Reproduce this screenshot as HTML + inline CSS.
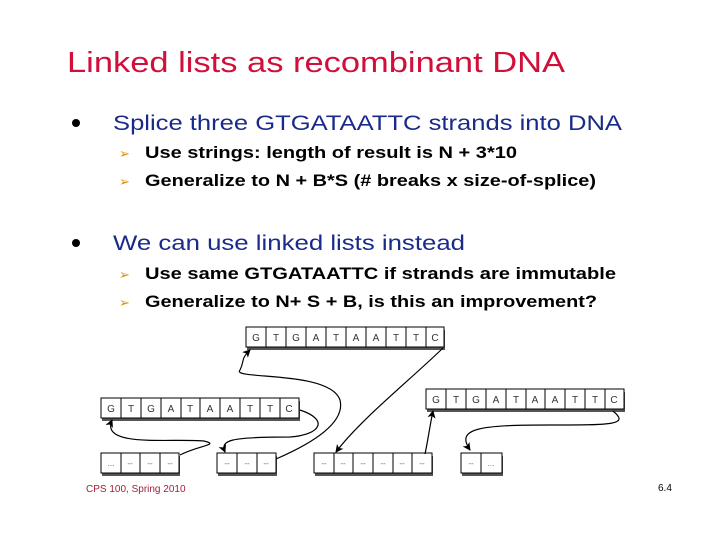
<!DOCTYPE html>
<html><head><meta charset="utf-8"><style>html,body{margin:0;padding:0;background:#fff}svg{display:block}</style></head>
<body>
<svg width="720" height="540" viewBox="0 0 720 540" xmlns="http://www.w3.org/2000/svg" font-family="Liberation Sans, Arial, sans-serif">
<rect width="720" height="540" fill="#fff"/>
<text x="67" y="72" font-size="29" fill="#d0103a" textLength="498" lengthAdjust="spacingAndGlyphs">Linked lists as recombinant DNA</text>
<circle cx="76" cy="123" r="4" fill="#000"/>
<text x="113" y="130" font-size="21" fill="#1a2a8a" textLength="509" lengthAdjust="spacingAndGlyphs">Splice three GTGATAATTC strands into DNA</text>
<text x="119" y="158" font-size="13" fill="#e09000">➢</text>
<text x="145" y="158" font-size="17" font-weight="bold" fill="#000" textLength="372" lengthAdjust="spacingAndGlyphs">Use strings: length of result is N + 3*10</text>
<text x="119" y="186" font-size="13" fill="#e09000">➢</text>
<text x="145" y="186" font-size="17" font-weight="bold" fill="#000" textLength="451" lengthAdjust="spacingAndGlyphs">Generalize to N + B*S (# breaks x size-of-splice)</text>
<circle cx="76" cy="243" r="4" fill="#000"/>
<text x="113" y="250" font-size="21" fill="#1a2a8a" textLength="352" lengthAdjust="spacingAndGlyphs">We can use linked lists instead</text>
<text x="119" y="279" font-size="13" fill="#e09000">➢</text>
<text x="145" y="279" font-size="17" font-weight="bold" fill="#000" textLength="471" lengthAdjust="spacingAndGlyphs">Use same GTGATAATTC if strands are immutable</text>
<text x="119" y="307" font-size="13" fill="#e09000">➢</text>
<text x="145" y="307" font-size="17" font-weight="bold" fill="#000" textLength="452" lengthAdjust="spacingAndGlyphs">Generalize to N+ S + B, is this an improvement?</text>

<text x="86" y="492" font-size="10" fill="#a0203a">CPS 100, Spring 2010</text>
<text x="658" y="491" font-size="10" fill="#000">6.4</text>

<g id="diagram" font-size="10" fill="#333" text-anchor="middle">
<!-- top strand -->
<g>
<rect x="247" y="330" width="198" height="20" fill="#555"/>
<rect x="246" y="327" width="198" height="20" fill="#fff" stroke="#000"/>
<g stroke="#000"><line x1="266" y1="327" x2="266" y2="347"/><line x1="286" y1="327" x2="286" y2="347"/><line x1="306" y1="327" x2="306" y2="347"/><line x1="326" y1="327" x2="326" y2="347"/><line x1="346" y1="327" x2="346" y2="347"/><line x1="366" y1="327" x2="366" y2="347"/><line x1="386" y1="327" x2="386" y2="347"/><line x1="406" y1="327" x2="406" y2="347"/><line x1="426" y1="327" x2="426" y2="347"/></g>
<text x="256" y="341">G</text><text x="276" y="341">T</text><text x="296" y="341">G</text><text x="316" y="341">A</text><text x="336" y="341">T</text><text x="356" y="341">A</text><text x="376" y="341">A</text><text x="396" y="341">T</text><text x="416" y="341">T</text><text x="435" y="341">C</text>
</g>
<!-- left strand -->
<g>
<rect x="102" y="401" width="198" height="20" fill="#555"/>
<rect x="101" y="398" width="198" height="20" fill="#fff" stroke="#000"/>
<g stroke="#000"><line x1="121" y1="398" x2="121" y2="418"/><line x1="141" y1="398" x2="141" y2="418"/><line x1="161" y1="398" x2="161" y2="418"/><line x1="181" y1="398" x2="181" y2="418"/><line x1="200" y1="398" x2="200" y2="418"/><line x1="220" y1="398" x2="220" y2="418"/><line x1="240" y1="398" x2="240" y2="418"/><line x1="260" y1="398" x2="260" y2="418"/><line x1="280" y1="398" x2="280" y2="418"/></g>
<text x="111" y="412">G</text><text x="131" y="412">T</text><text x="151" y="412">G</text><text x="171" y="412">A</text><text x="190" y="412">T</text><text x="210" y="412">A</text><text x="230" y="412">A</text><text x="250" y="412">T</text><text x="270" y="412">T</text><text x="289" y="412">C</text>
</g>
<!-- right strand -->
<g>
<rect x="427" y="392" width="198" height="20" fill="#555"/>
<rect x="426" y="389" width="198" height="20" fill="#fff" stroke="#000"/>
<g stroke="#000"><line x1="446" y1="389" x2="446" y2="409"/><line x1="466" y1="389" x2="466" y2="409"/><line x1="486" y1="389" x2="486" y2="409"/><line x1="506" y1="389" x2="506" y2="409"/><line x1="526" y1="389" x2="526" y2="409"/><line x1="545" y1="389" x2="545" y2="409"/><line x1="565" y1="389" x2="565" y2="409"/><line x1="585" y1="389" x2="585" y2="409"/><line x1="605" y1="389" x2="605" y2="409"/></g>
<text x="436" y="403">G</text><text x="456" y="403">T</text><text x="476" y="403">G</text><text x="496" y="403">A</text><text x="516" y="403">T</text><text x="535" y="403">A</text><text x="555" y="403">A</text><text x="575" y="403">T</text><text x="595" y="403">T</text><text x="614" y="403">C</text>
</g>
<!-- bottom lists -->
<g fill="#555"><rect x="102" y="456" width="78" height="20"/><rect x="218" y="456" width="59" height="20"/><rect x="315" y="456" width="118" height="20"/><rect x="462" y="456" width="41" height="20"/></g>
<g fill="#fff" stroke="#000">
<rect x="101" y="453" width="78" height="20"/><rect x="217" y="453" width="59" height="20"/><rect x="314" y="453" width="118" height="20"/><rect x="461" y="453" width="41" height="20"/>
<line x1="121" y1="453" x2="121" y2="473"/><line x1="140" y1="453" x2="140" y2="473"/><line x1="160" y1="453" x2="160" y2="473"/>
<line x1="237" y1="453" x2="237" y2="473"/><line x1="257" y1="453" x2="257" y2="473"/>
<line x1="334" y1="453" x2="334" y2="473"/><line x1="353" y1="453" x2="353" y2="473"/><line x1="373" y1="453" x2="373" y2="473"/><line x1="393" y1="453" x2="393" y2="473"/><line x1="412" y1="453" x2="412" y2="473"/>
<line x1="481" y1="453" x2="481" y2="473"/>
</g>
<g font-size="8" fill="#666">
<text x="111" y="466" fill="#a03040">...</text><text x="130" y="466">--</text><text x="150" y="466">--</text><text x="170" y="466">--</text>
<text x="227" y="466">--</text><text x="247" y="466">--</text><text x="266" y="466">--</text>
<text x="324" y="466">--</text><text x="343" y="466">--</text><text x="363" y="466">--</text><text x="383" y="466">--</text><text x="402" y="466">--</text><text x="422" y="466">--</text>
<text x="471" y="466">--</text><text x="491" y="466">...</text>
</g>
</g>
<defs><marker id="ah" markerWidth="8" markerHeight="8" refX="7" refY="4" orient="auto" markerUnits="userSpaceOnUse"><path d="M0,0 L8,4 L0,8 L2,4 z" fill="#000"/></marker></defs>
<g fill="none" stroke="#000" stroke-width="1.2" marker-end="url(#ah)">
<path d="M180,455 C200,445 220,445 204,441 C170,438 100,448 112,420"/>
<path d="M300,410 C330,420 320,435 290,437 C230,437 220,440 225,452"/>
<path d="M276,459 C320,440 345,420 340,400 C330,370 230,380 240,370 C245,360 240,360 250,350"/>
<path d="M443,348 C410,380 360,420 336,452"/>
<path d="M425,454 C428,440 430,425 433,411"/>
<path d="M613,411 C630,425 612,425 550,425 C480,425 455,428 470,450"/>
</g>
</svg>
</body></html>
